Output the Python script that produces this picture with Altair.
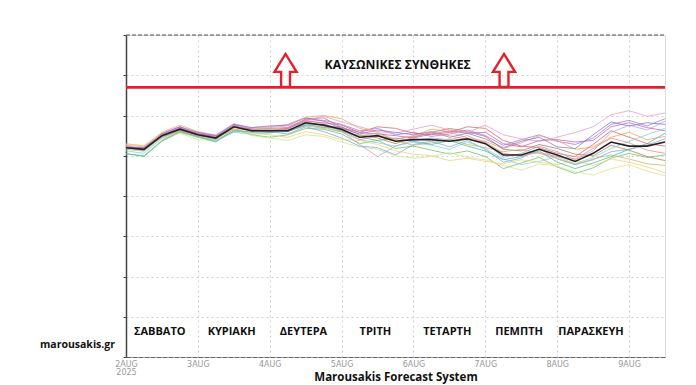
import altair as alt
import pandas as pd

# time steps (days after 2 Aug 2025 00:00, 6-hourly)
steps = [i * 0.25 for i in range(31)]

mean_line = [26.0, 25.8, 27.5, 28.3, 27.6, 27.2, 28.6, 28.1, 28.1, 28.1, 29.1, 28.8, 28.3, 27.3, 27.5, 26.8,
             27.0, 27.0, 26.8, 27.1, 26.5, 25.1, 25.1, 25.8, 25.1, 24.3, 25.3, 26.7, 26.2, 26.2, 26.7]

m01 = [26.2, 25.9, 27.8, 28.6, 27.7, 27.4, 28.9, 28.3, 28.4, 28.5, 29.5, 29.4, 28.9, 28.1, 28.4, 27.6, 27.9, 27.4, 27.7, 28.2, 27.5, 26.3, 27.0, 27.6, 26.8, 26.4, 27.2, 28.9, 29.4, 28.7, 29.6]
m02 = [26.5, 26.2, 27.9, 28.8, 28.0, 27.5, 28.2, 28.5, 28.6, 28.9, 29.8, 30.0, 29.6, 28.4, 27.9, 27.0, 27.5, 28.3, 28.0, 27.2, 26.8, 25.9, 26.6, 27.5, 26.9, 25.8, 26.1, 27.3, 27.9, 27.0, 27.4]
m03 = [25.3, 24.9, 26.8, 27.9, 27.3, 26.8, 28.3, 27.6, 27.3, 27.6, 28.4, 28.3, 27.7, 26.5, 26.9, 25.9, 26.2, 25.7, 25.2, 25.6, 24.9, 23.4, 24.1, 24.8, 23.6, 22.8, 23.5, 24.7, 25.3, 24.8, 25.1]
m04 = [25.8, 25.6, 27.4, 28.1, 27.4, 27.0, 28.0, 27.9, 28.0, 27.7, 28.6, 28.0, 27.2, 26.2, 26.0, 25.1, 26.4, 26.8, 26.1, 26.9, 25.8, 24.2, 24.7, 25.9, 24.6, 23.9, 24.5, 25.5, 25.8, 26.3, 27.1]
m05 = [26.1, 26.0, 27.5, 28.5, 27.8, 27.3, 28.7, 28.2, 27.9, 28.3, 29.6, 29.7, 28.5, 27.9, 28.6, 28.4, 27.8, 27.6, 27.9, 28.6, 28.4, 26.9, 26.2, 26.0, 25.3, 24.9, 26.4, 28.1, 27.3, 26.5, 26.2]
m06 = [26.0, 25.7, 27.6, 28.2, 27.5, 27.1, 28.8, 28.0, 28.2, 28.0, 28.9, 28.5, 28.6, 27.6, 27.2, 26.5, 27.3, 27.9, 28.4, 28.0, 27.4, 25.8, 25.6, 26.4, 25.9, 25.2, 25.0, 26.3, 25.7, 24.9, 24.4]
m07 = [26.3, 26.1, 27.7, 28.4, 27.9, 27.6, 29.0, 28.4, 28.5, 28.7, 29.4, 29.9, 29.2, 28.6, 28.0, 27.8, 28.3, 28.8, 28.2, 27.9, 28.8, 27.6, 27.1, 26.8, 27.3, 27.9, 28.6, 30.1, 30.6, 29.9, 30.3]
m08 = [25.9, 25.5, 27.1, 27.8, 27.0, 26.9, 28.4, 27.5, 27.2, 26.9, 27.6, 27.4, 26.7, 26.1, 25.8, 25.0, 24.7, 24.9, 25.4, 24.8, 24.5, 23.8, 23.2, 24.0, 23.7, 23.0, 22.6, 23.4, 23.9, 23.1, 22.5]
m09 = [25.6, 25.3, 27.2, 28.0, 27.3, 26.9, 27.9, 27.7, 27.8, 28.2, 28.9, 28.6, 27.9, 27.0, 26.6, 26.2, 26.7, 26.3, 25.8, 26.7, 25.9, 24.6, 23.9, 24.3, 24.9, 24.0, 24.8, 25.9, 26.8, 27.6, 28.4]
m10 = [26.0, 25.9, 27.4, 28.3, 27.6, 27.2, 28.5, 28.1, 28.3, 28.4, 29.2, 28.7, 28.1, 26.4, 24.9, 26.2, 26.9, 27.2, 27.0, 27.5, 26.6, 24.8, 25.3, 26.2, 25.5, 24.5, 25.6, 27.9, 28.8, 28.2, 29.3]
m11 = [26.4, 26.3, 27.6, 28.0, 27.4, 27.1, 28.3, 27.8, 27.6, 27.3, 28.0, 27.6, 27.0, 26.9, 26.4, 25.6, 25.2, 25.0, 24.4, 24.7, 24.3, 24.0, 24.5, 24.2, 23.9, 24.4, 23.8, 24.6, 24.2, 23.6, 22.9]
m12 = [26.1, 25.8, 27.5, 28.4, 27.7, 27.4, 28.6, 28.3, 28.0, 28.4, 29.3, 29.1, 28.8, 27.9, 27.7, 27.5, 27.2, 27.7, 28.1, 27.8, 27.9, 26.5, 26.1, 26.9, 27.0, 26.7, 26.9, 28.6, 29.1, 28.5, 28.1]
m13 = [26.2, 25.7, 27.3, 28.1, 27.5, 27.3, 28.2, 28.2, 28.4, 28.1, 28.7, 28.4, 28.0, 27.5, 27.8, 26.9, 26.3, 26.6, 27.1, 26.4, 26.0, 25.5, 25.8, 25.3, 24.7, 23.9, 24.6, 25.1, 24.6, 24.0, 23.8]
m14 = [25.2, 25.0, 26.9, 28.0, 27.4, 26.7, 28.1, 28.0, 27.9, 28.0, 28.8, 28.9, 28.1, 27.3, 26.9, 27.2, 26.8, 26.4, 26.9, 26.2, 25.6, 24.5, 24.9, 25.6, 24.2, 23.4, 24.1, 24.9, 25.8, 26.5, 27.8]
m15 = [26.0, 26.0, 27.7, 28.6, 27.9, 27.5, 28.9, 28.5, 28.7, 28.8, 29.7, 29.3, 28.4, 27.7, 28.2, 27.9, 27.6, 28.0, 27.3, 27.8, 27.1, 26.0, 26.8, 27.3, 26.1, 25.9, 27.6, 29.2, 28.7, 29.1, 28.9]
m16 = [25.9, 25.8, 27.3, 28.2, 27.6, 27.1, 28.6, 28.2, 28.1, 28.5, 29.4, 29.0, 28.2, 27.0, 27.4, 27.1, 27.4, 27.8, 27.5, 27.0, 26.7, 25.3, 25.0, 25.4, 24.9, 24.6, 25.9, 27.2, 26.6, 25.7, 25.3]

members = [m01, m02, m03, m04, m05, m06, m07, m08, m09, m10, m11, m12, m13, m14, m15, m16]
member_colors = ['#9b7fc9', '#f0a45a', '#6cc06c', '#7aa6e0', '#e06060', '#b07a50', '#e69ac8', '#d4e38a',
                 '#7fd6d6', '#b0a0d8', '#f2cf78', '#c060c0', '#c8b070', '#50b8a0', '#8a70e0', '#f08a80']

day_names = ['ΣΑΒΒΑΤΟ', 'ΚΥΡΙΑΚΗ', 'ΔΕΥΤΕΡΑ', 'ΤΡΙΤΗ', 'ΤΕΤΑΡΤΗ', 'ΠΕΜΠΤΗ', 'ΠΑΡΑΣΚΕΥΗ']
day_pos = [0.47, 1.47, 2.47, 3.47, 4.47, 5.47, 6.47]
tick_days = [0, 1, 2, 3, 4, 5, 6, 7]

heat_threshold = 33.5
arrow_days = [2.22, 5.26]
arrow_level = 35.6
heat_label = 'ΚΑΥΣΩΝΙΚΕΣ ΣΥΝΘΗΚΕΣ'

rows = []
for k, m in enumerate(members):
    for d, v in zip(steps, m):
        rows.append({'member': f'm{k+1:02d}', 'day': d, 'value': v})
ens = pd.DataFrame(rows)
mean_df = pd.DataFrame({'day': steps, 'value': mean_line})
days_df = pd.DataFrame({'day': day_pos, 'name': day_names, 'value': [3.1] * 7})
arrows_df = pd.DataFrame({'day': arrow_days, 'value': [arrow_level] * 2})

W, H = 539, 322
xscale = alt.Scale(domain=[0, 7.5], nice=False, zero=False)
yscale = alt.Scale(domain=[0, 40], nice=False)

xaxis = alt.Axis(values=tick_days, grid=True, gridColor='#d0d0d0', gridDash=[2, 3], gridWidth=1,
                 ticks=False, domainColor='#666', domainDash=[5, 1], domainWidth=1.2,
                 labelExpr="datum.value == 0 ? ['2AUG', '2025'] : (datum.value + 2) + 'AUG'",
                 labelColor='#999', labelFontSize=8, labelFont='DejaVu Sans', labelPadding=3,
                 labelLineHeight=8.5, labelAlign='center', labelBaseline='top',
                 title='Marousakis Forecast System', titleFont='Open Sans', titleFontSize=11.5,
                 titleFontWeight='bold', titleColor='#111', titleY=20.5, titleBaseline='middle')
yaxis = alt.Axis(values=[0, 5, 10, 15, 20, 25, 30, 35, 40], grid=True, gridColor='#d0d0d0',
                 gridDash=[2, 3], labels=False, ticks=True, tickSize=3, tickColor='#444',
                 domainColor='#444', domainWidth=1.5, title=None)

ens_layer = alt.Chart(ens).mark_line(strokeWidth=0.9, opacity=0.85).encode(
    x=alt.X('day:Q', scale=xscale, axis=xaxis),
    y=alt.Y('value:Q', scale=yscale, axis=yaxis),
    color=alt.Color('member:N', scale=alt.Scale(range=member_colors), legend=None),
    detail='member:N',
)

mean_layer = alt.Chart(mean_df).mark_line(strokeWidth=1.6, color='#222').encode(
    x=alt.X('day:Q', scale=xscale), y=alt.Y('value:Q', scale=yscale))

red_rule = alt.Chart(pd.DataFrame({'value': [heat_threshold]})).mark_rule(
    color='#e3202b', strokeWidth=2.6).encode(y=alt.Y('value:Q', scale=yscale))

arrow_path = 'M -0.27 1 L -0.27 0.09 L -0.67 0.09 L 0 -1 L 0.67 0.09 L 0.27 0.09 L 0.27 1 Z'
arrows = alt.Chart(arrows_df).mark_point(shape=arrow_path, size=1089, filled=False,
                                         stroke='#e3202b', strokeWidth=2.4, opacity=1).encode(
    x=alt.X('day:Q', scale=xscale), y=alt.Y('value:Q', scale=yscale))

heat_text = alt.Chart(pd.DataFrame({'day': [3.78], 'value': [36.3], 't': [heat_label]})).mark_text(
    font='Open Sans', fontSize=12.2, fontWeight='bold', color='#111').encode(
    x=alt.X('day:Q', scale=xscale), y=alt.Y('value:Q', scale=yscale), text='t:N')

day_text = alt.Chart(days_df).mark_text(font='Open Sans', fontSize=11, fontWeight='bold',
                                        color='#111').encode(
    x=alt.X('day:Q', scale=xscale), y=alt.Y('value:Q', scale=yscale), text='name:N')

site_text = alt.Chart(pd.DataFrame({'t': ['marousakis.gr']})).mark_text(
    font='Open Sans', fontSize=10.5, fontWeight='bold', color='#111', align='right').encode(
    x=alt.value(-11), y=alt.value(310), text='t:N')

top_border = alt.Chart(pd.DataFrame({'a': [0]})).mark_rule(
    color='#555', strokeDash=[4, 2], strokeWidth=1.2).encode(
    x=alt.value(0), x2=alt.value(W), y=alt.value(0))

chart = alt.layer(ens_layer, mean_layer, red_rule, arrows, heat_text, day_text, site_text,
                  top_border).properties(
    width=W, height=H, autosize=alt.AutoSizeParams(type='none'),
    padding={'left': 118, 'top': 27, 'right': 22, 'bottom': 27},
).configure_view(stroke='#aaa', strokeWidth=1).configure(background='white')

chart.save('out.html', embed_options={'renderer': 'svg', 'actions': False})
